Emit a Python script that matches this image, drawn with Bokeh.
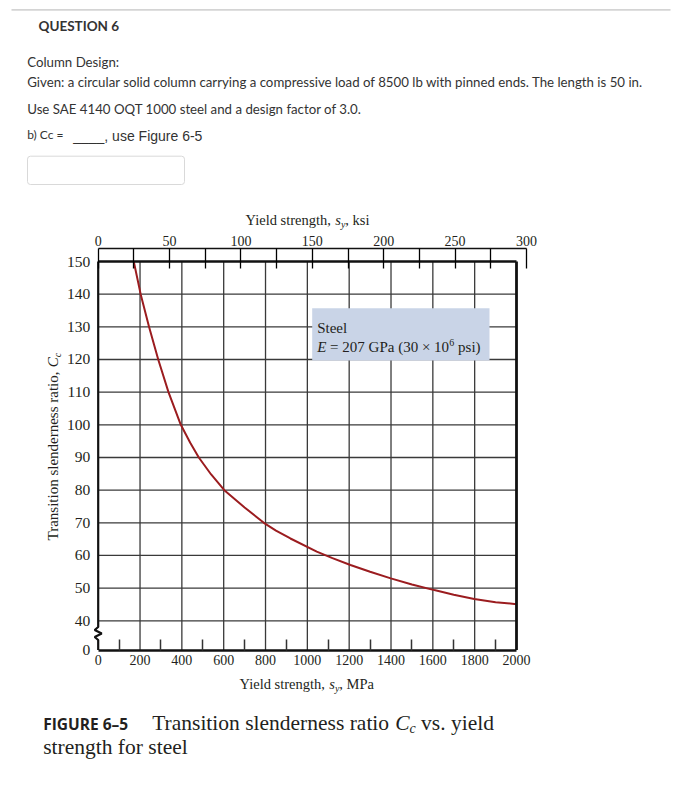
from bokeh.plotting import figure
from bokeh.models import Range1d, LinearAxis, FixedTicker, Label, BoxAnnotation
from bokeh.embed import file_html
from bokeh.resources import INLINE

# ---------------- data ----------------
mpa_ticks = [0, 200, 400, 600, 800, 1000, 1200, 1400, 1600, 1800, 2000]
mpa_minor = [100, 300, 500, 700, 900, 1100, 1300, 1500, 1700, 1900]
ksi_ticks = [0, 50, 100, 150, 200, 250, 300]
ksi_minor = [25, 75, 125, 175, 225, 275]
cc_ticks = [0, 40, 50, 60, 70, 80, 90, 100, 110, 120, 130, 140, 150]

yield_mpa = [170, 203, 243, 287, 336, 395, 440, 481, 540, 603, 700, 792, 850,
             919, 1045, 1120, 1206, 1300, 1399, 1500, 1607, 1700, 1798, 1900, 2000]
cc_values = [150, 140, 130, 120, 110, 100, 94.5, 90, 84.8, 80, 74.7, 70, 67.6,
             65.2, 61.2, 59.2, 57.1, 55.0, 53.0, 51.1, 49.4, 48.0, 46.7, 45.7, 45.1]

# ---------------- geometry (canvas pixels) ----------------
W, H = 671, 775
X0_PAGE, X2000_PAGE = 97.7, 516.0        # where 0 and 2000 MPa sit
Y150_PAGE, Y40_PAGE = 261.0, 620.3       # where Cc = 150 and 40 sit
SX = (X2000_PAGE - X0_PAGE) / 2000.0
SY = (Y40_PAGE - Y150_PAGE) / 110.0


def DX(px):
    return (px - X0_PAGE) / SX


def DY(py):
    return 150 - (py - Y150_PAGE) / SY


Y_BREAK = DY(649.5)                       # bottom of the broken axis ("0")
KSI_PER_MPA = ksi_ticks[-1] / DX(526.0)   # 300 ksi sits at x = 526 px

p = figure(width=W, height=H, output_backend="svg", toolbar_location=None,
           x_range=Range1d(DX(0), DX(W)), y_range=Range1d(DY(H), DY(0)),
           x_axis_location=None, y_axis_location=None, min_border=0)
p.title.visible = False
p.outline_line_color = None
p.xgrid.visible = False
p.ygrid.visible = False
p.background_fill_color = "white"
p.border_fill_color = "white"

TICK_FONT = "Liberation Serif"
INK = "#231f20"

# bottom MPa axis
xa = LinearAxis(ticker=FixedTicker(ticks=mpa_ticks, minor_ticks=mpa_minor),
                bounds=(mpa_ticks[0], mpa_ticks[-1]), fixed_location=Y_BREAK,
                major_tick_in=0, major_tick_out=0,
                minor_tick_in=11, minor_tick_out=0,
                minor_tick_line_width=1.5, minor_tick_line_color="#333333",
                axis_line_width=2.5, axis_line_color="#111111",
                major_label_standoff=5, major_label_text_font=TICK_FONT,
                major_label_text_font_size="14px", major_label_text_color=INK)
p.add_layout(xa, "below")

# left Cc axis (broken at the bottom)
cc_pos = [Y_BREAK if t == 0 else t for t in cc_ticks]
ya = LinearAxis(ticker=FixedTicker(ticks=cc_pos), fixed_location=0,
                major_label_overrides={Y_BREAK: "0"},
                major_tick_in=0, major_tick_out=0, minor_tick_in=0, minor_tick_out=0,
                axis_line_color=None, major_label_standoff=8,
                major_label_text_font=TICK_FONT, major_label_text_font_size="15.5px",
                major_label_text_color=INK)
p.add_layout(ya, "left")

# top ksi axis
p.extra_x_ranges = {"ksi": Range1d(DX(0) * KSI_PER_MPA, DX(W) * KSI_PER_MPA)}
ta = LinearAxis(x_range_name="ksi",
                ticker=FixedTicker(ticks=ksi_ticks, minor_ticks=ksi_minor),
                bounds=(ksi_ticks[0], ksi_ticks[-1]), fixed_location=DY(248),
                major_tick_in=20, major_tick_out=0,
                minor_tick_in=20, minor_tick_out=0,
                major_tick_line_width=1.3, minor_tick_line_width=1.3,
                axis_line_width=1.6, axis_line_color="#111111",
                major_label_standoff=3, major_label_text_font=TICK_FONT,
                major_label_text_font_size="14px", major_label_text_color=INK)
p.add_layout(ta, "above")

GRID = "#3a3a3a"
top_cc = cc_ticks[-1]
x_max = mpa_ticks[-1]
# grid lines
vx = mpa_ticks[1:-1]
p.segment(x0=vx, x1=vx, y0=[Y_BREAK] * len(vx), y1=[top_cc] * len(vx),
          line_color=GRID, line_width=1.3)
hy = cc_ticks[1:-1]
p.segment(x0=[0] * len(hy), x1=[x_max] * len(hy), y0=hy, y1=hy,
          line_color=GRID, line_width=1.3)

# annotation box "Steel"
p.quad(left=DX(311.7), right=DX(489), top=DY(307.7), bottom=DY(360),
       fill_color="#c9d4e7", line_color=None)

# curve
p.line(yield_mpa, cc_values, line_color="#9b1c1f", line_width=2)

# frame borders
p.line([0, x_max], [top_cc, top_cc], line_color="#111111", line_width=2.6)
p.line([x_max, x_max], [Y_BREAK, top_cc], line_color="#111111", line_width=2.8)
zx_px = [0, 0, -3.5, 3.5, -3.5, 0, 0]
zy_px = [261, 626.5, 629.5, 633, 636.5, 639.5, 649.5]
p.line([v / SX for v in zx_px], [DY(v) for v in zy_px],
       line_color="#111111", line_width=2.2)


def lab(text, xp, yp, size, font="Liberation Serif", style="normal",
        align="left", angle=0.0, color=INK):
    p.add_layout(Label(x=DX(xp), y=DY(yp), text=text, text_font=font,
                       text_font_size=f"{size}px", text_font_style=style,
                       text_align=align, text_baseline="middle", angle=angle,
                       text_color=color))


# box text
lab("Steel", 316.7, 327.7, 15)
lab("E", 316.7, 346.7, 15, style="italic")
lab("= 207 GPa (30 \u00d7 10", 329.6, 346.7, 15)
lab("6", 448.8, 342, 10)
lab("psi)", 457.6, 346.7, 15)

# top axis title
lab("Yield strength,", 245, 219.5, 14.5)
lab("s", 334.8, 219.5, 14.5, style="italic")
lab("y", 340.4, 223.5, 10, style="italic")
lab(", ksi", 344.8, 219.5, 14.5)

# bottom axis title
lab("Yield strength,", 239, 683.5, 14.5)
lab("s", 328.8, 683.5, 14.5, style="italic")
lab("y", 334.4, 687.5, 10, style="italic")
lab(", MPa", 338.8, 683.5, 14.5)

# left axis title (rotated)
ANG = 1.5707963
lab("Transition slenderness ratio,", 52.5, 540, 15, angle=ANG)
lab("C", 52.5, 366.7, 15, style="italic", angle=ANG)
lab("c", 56.5, 356.7, 10, style="italic", angle=ANG)

# ---------------- page header ----------------
p.add_layout(BoxAnnotation(left=DX(11), right=DX(670), top=DY(8.6), bottom=DY(10.2),
                           fill_color="#d4d4d4", fill_alpha=1, line_color=None))
HEAD = "#333333"
lab("QUESTION 6", 38, 25, 13.5, font="Lato", style="bold", color=HEAD)
lab("Column Design:", 26.7, 61.7, 13.25, font="Lato", color=HEAD)
lab("Given: a circular solid column carrying a compressive load of 8500 lb with pinned ends. The length is 50 in.",
    26.7, 81.7, 13.25, font="Lato", color=HEAD)
lab("Use SAE 4140 OQT 1000 steel and a design factor of 3.0.", 26.7, 108.3, 13.25,
    font="Lato", color=HEAD)
lab("b) Cc =", 26.7, 134, 12, font="Lato", color=HEAD)
lab("____, use Figure 6-5", 72.7, 135, 14, font="Liberation Sans", color=HEAD)
p.add_layout(BoxAnnotation(left=DX(27), right=DX(184), top=DY(155.7), bottom=DY(184),
                           fill_color="white", fill_alpha=1, line_color="#d9d9d9",
                           line_alpha=1, line_width=1, border_radius=3))

# ---------------- caption ----------------
lab("FIGURE 6\u20135", 42.7, 723, 15.5, font="Open Sans", style="bold", color="#231f20")
lab("Transition slenderness ratio", 151.7, 722, 21.5)
lab("C", 394.7, 722, 21.5, style="italic")
lab("c", 409.0, 728.2, 14, style="italic")
lab("vs. yield", 420.6, 722, 21.5)
lab("strength for steel", 42.7, 746.7, 21.5)

open("out.html", "w").write(file_html(p, INLINE))
